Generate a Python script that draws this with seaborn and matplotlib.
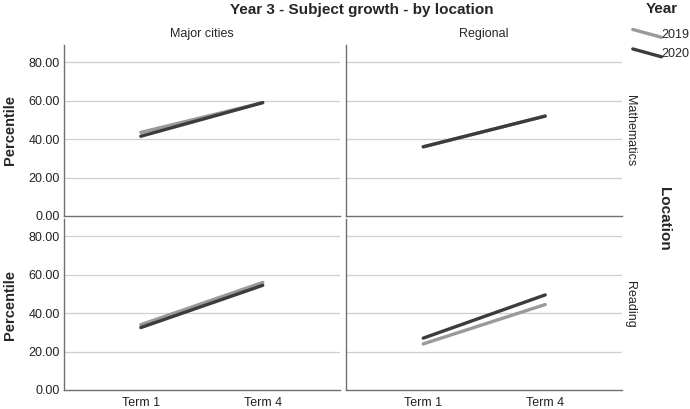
import matplotlib
matplotlib.use("Agg")
import matplotlib.pyplot as plt
from matplotlib.legend_handler import HandlerBase
from matplotlib.lines import Line2D
from matplotlib.ticker import FormatStrFormatter
import seaborn as sns
import pandas as pd

# Data
terms = ["Term 1", "Term 4"]
locations = ["Major cities", "Regional"]
subjects = ["Mathematics", "Reading"]
years = ["2019", "2020"]

math_major_2019 = [43.5, 59.0]
math_major_2020 = [41.5, 59.0]
math_regional_2019 = [36.0, 52.0]
math_regional_2020 = [36.0, 52.0]
read_major_2019 = [34.0, 56.0]
read_major_2020 = [32.5, 54.5]
read_regional_2019 = [24.0, 44.5]
read_regional_2020 = [27.0, 49.5]

series = {
    ("Mathematics", "Major cities", "2019"): math_major_2019,
    ("Mathematics", "Major cities", "2020"): math_major_2020,
    ("Mathematics", "Regional", "2019"): math_regional_2019,
    ("Mathematics", "Regional", "2020"): math_regional_2020,
    ("Reading", "Major cities", "2019"): read_major_2019,
    ("Reading", "Major cities", "2020"): read_major_2020,
    ("Reading", "Regional", "2019"): read_regional_2019,
    ("Reading", "Regional", "2020"): read_regional_2020,
}

rows = []
for (subj, loc, yr), vals in series.items():
    for term, v in zip(terms, vals):
        rows.append({"Subject": subj, "Location": loc, "Year": yr, "Term": term, "Percentile": v})
df = pd.DataFrame(rows)

sns.set_theme(style="white")
plt.rcParams["font.family"] = ["Liberation Sans", "DejaVu Sans"]

palette = {"2019": "#9a9a9a", "2020": "#3c3c3c"}

g = sns.relplot(data=df, x="Term", y="Percentile", hue="Year", row="Subject", col="Location",
                kind="line", palette=palette, hue_order=years, row_order=subjects,
                col_order=locations, linewidth=2.4, legend=False,
                height=2, aspect=1.5, facet_kws={"sharex": True, "sharey": True})

fig = g.figure
fig.set_size_inches(6.9, 4.09)
fig.subplots_adjust(left=64 / 690, right=622 / 690, top=1 - 45 / 409, bottom=1 - 390 / 409,
                    hspace=0.018, wspace=0.025)

g.set_titles("")

for r, subj in enumerate(subjects):
    for c, loc in enumerate(locations):
        ax = g.axes[r, c]
        ax.set_ylim(0, 89)
        ax.set_xlim(-0.63, 1.63)
        ax.set_yticks([0, 20, 40, 60, 80])
        ax.yaxis.set_major_formatter(FormatStrFormatter("%.2f"))
        for y in [20, 40, 60, 80]:
            ax.axhline(y, color="#cfcfcf", linewidth=0.9, zorder=0)
        ax.tick_params(axis="both", length=0, labelsize=9, colors="#222222", pad=3)
        ax.tick_params(axis="y", labelleft=(c == 0))
        for s in ["top", "right"]:
            ax.spines[s].set_visible(False)
        for s in ["left", "bottom"]:
            ax.spines[s].set_color("#707070")
            ax.spines[s].set_linewidth(1.0)
        ax.set_xlabel("")
        if c == 0:
            ax.set_ylabel("Percentile", fontsize=10.5, fontweight="bold", labelpad=8)
        else:
            ax.set_ylabel("")
        if r == 0:
            ax.set_title(loc, fontsize=9, pad=6)
        if c == 1:
            ax.text(1.03, 0.5, subj, transform=ax.transAxes, rotation=-90,
                    ha="center", va="center", fontsize=9)
        if r == 1:
            ax.tick_params(axis="x", labelsize=9, pad=5)

fig.suptitle("Year 3 - Subject growth - by location", fontsize=11, fontweight="bold",
             x=0.525, y=0.993, va="top")
fig.text(0.963, 0.465, "Location", rotation=-90, fontsize=11, fontweight="bold",
         ha="center", va="center")
fig.text(662 / 690, 1 - 9 / 409, "Year", fontsize=11, fontweight="bold",
         ha="center", va="center")


class DiagonalLine(HandlerBase):
    def create_artists(self, legend, orig_handle, xdescent, ydescent, width, height,
                       fontsize, trans):
        line = Line2D([-xdescent, width - xdescent],
                      [height * 0.95 - ydescent, height * 0.05 - ydescent],
                      color=orig_handle.get_color(), linewidth=2.4, transform=trans)
        return [line]


handles = [Line2D([], [], color=palette[y]) for y in years]
leg = fig.legend(handles, years, loc="upper right", bbox_to_anchor=(1.012, 1 - 20 / 409),
                 frameon=False, fontsize=9, handlelength=2.3, handletextpad=0.0,
                 labelspacing=0.6, borderpad=0.2,
                 handler_map={Line2D: DiagonalLine()})

fig.savefig("out.png", dpi=100)
